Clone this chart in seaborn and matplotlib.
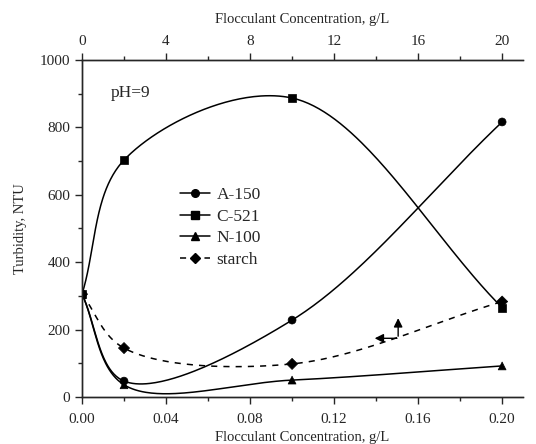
import matplotlib
matplotlib.use("Agg")
import matplotlib.pyplot as plt
from matplotlib.lines import Line2D
from matplotlib.ticker import MultipleLocator
import numpy as np
import pandas as pd
import seaborn as sns

# datos
concentracion = [0.0, 0.02, 0.10, 0.20]
a150 = [305, 47, 228, 816]
c521 = [305, 703, 887, 265]
n100 = [305, 36, 50, 92]
almidon = [305, 145, 98, 283]
series = ["A-150", "C-521", "N-100", "starch"]
marcadores = {"A-150": "o", "C-521": "s", "N-100": "^", "starch": "D"}
estilos = {"A-150": "-", "C-521": "-", "N-100": "-", "starch": (0, (4, 4))}


def tramo_cr(P0, P1, P2, P3, n=80, alpha=0.5):
    t0 = 0.0
    t1 = t0 + np.linalg.norm(P1 - P0) ** alpha
    t2 = t1 + np.linalg.norm(P2 - P1) ** alpha
    t3 = t2 + np.linalg.norm(P3 - P2) ** alpha
    t = np.linspace(t1, t2, n)[:, None]
    A1 = (t1 - t) / (t1 - t0) * P0 + (t - t0) / (t1 - t0) * P1
    A2 = (t2 - t) / (t2 - t1) * P1 + (t - t1) / (t2 - t1) * P2
    A3 = (t3 - t) / (t3 - t2) * P2 + (t - t2) / (t3 - t2) * P3
    B1 = (t2 - t) / (t2 - t0) * A1 + (t - t0) / (t2 - t0) * A2
    B2 = (t3 - t) / (t3 - t1) * A2 + (t - t1) / (t3 - t1) * A3
    return (t2 - t) / (t2 - t1) * B1 + (t - t1) / (t2 - t1) * B2


def curva_suave(x, y, sx=419 / 0.2, sy=0.337):
    # Catmull-Rom centripeto en coordenadas de pantalla
    P = np.column_stack([np.asarray(x, float) * sx, np.asarray(y, float) * sy])
    P = np.vstack([2 * P[0] - P[1], P, 2 * P[-1] - P[-2]])
    tramos = [tramo_cr(P[i], P[i + 1], P[i + 2], P[i + 3]) for i in range(len(P) - 3)]
    C = np.vstack(tramos)
    return C[:, 0] / sx, C[:, 1] / sy


df = pd.DataFrame({
    "conc": concentracion * 4,
    "turb": a150 + c521 + n100 + almidon,
    "serie": [s for s in series for _ in concentracion],
})

sns.set_style("ticks")
plt.rcParams["font.family"] = ["Liberation Serif", "DejaVu Serif"]
plt.rcParams["xtick.direction"] = "out"
plt.rcParams["ytick.direction"] = "out"

fig = plt.figure(figsize=(5.36, 4.44), dpi=100)
ax = fig.add_axes([0.153, 0.106, 0.823, 0.759])

for s in series:
    sub = df[df["serie"] == s]
    cx, cy = curva_suave(sub["conc"].values, sub["turb"].values)
    ax.plot(cx, cy, color="black", lw=1.1, linestyle=estilos[s])

sns.scatterplot(data=df, x="conc", y="turb", style="serie", markers=marcadores,
                color="black", s=32, edgecolor="black", linewidth=0.5,
                legend=False, ax=ax, zorder=3)

ax.set_xlim(0, 0.21)
ax.set_ylim(0, 1000)
ax.xaxis.set_major_locator(MultipleLocator(0.04))
ax.xaxis.set_minor_locator(MultipleLocator(0.02))
ax.yaxis.set_major_locator(MultipleLocator(200))
ax.yaxis.set_minor_locator(MultipleLocator(100))
ax.xaxis.set_major_formatter(plt.FuncFormatter(lambda v, p: f"{v:.2f}"))
ax.tick_params(which="major", length=5, width=1, labelsize=11)
ax.tick_params(which="minor", length=3, width=1)
ax.tick_params(axis="x", which="major", pad=6.5)
ax.set_xlabel("Flocculant Concentration, g/L", fontsize=10.5, labelpad=4)
ax.set_ylabel("Turbidity, NTU", fontsize=10.5, labelpad=9)
ax.spines["right"].set_visible(False)

ax2 = ax.twiny()
ax2.set_xlim(0, 21)
ax2.xaxis.set_major_locator(MultipleLocator(4))
ax2.xaxis.set_minor_locator(MultipleLocator(2))
ax2.tick_params(which="major", length=5, width=1, labelsize=11)
ax2.tick_params(which="minor", length=3, width=1)
ax2.set_xlabel("Flocculant Concentration, g/L", fontsize=10.5, labelpad=9)
ax2.spines["right"].set_visible(False)
for a in (ax, ax2):
    for sp in a.spines.values():
        sp.set_linewidth(1)

ax.text(0.0135, 902, "pH=9", fontsize=12.5, va="center", ha="left")

# flechas indicando los ejes
ax.annotate("", xy=(0.1505, 242), xytext=(0.1505, 172),
            arrowprops=dict(arrowstyle="-|>", color="black", lw=1, mutation_scale=13))
ax.annotate("", xy=(0.138, 174), xytext=(0.1512, 174),
            arrowprops=dict(arrowstyle="-|>", color="black", lw=1, mutation_scale=13))

manejadores = [Line2D([], [], color="black", lw=1.1, linestyle=estilos[s],
                      marker=marcadores[s], markersize=5.5 if s != "starch" else 5)
               for s in series]
fig.legend(manejadores, series, loc="upper left", bbox_to_anchor=(0.32, 0.599),
           frameon=False, fontsize=12.5, handlelength=1.7, handletextpad=0.4,
           labelspacing=0.32, borderpad=0)

fig.savefig("out.png", dpi=100)
